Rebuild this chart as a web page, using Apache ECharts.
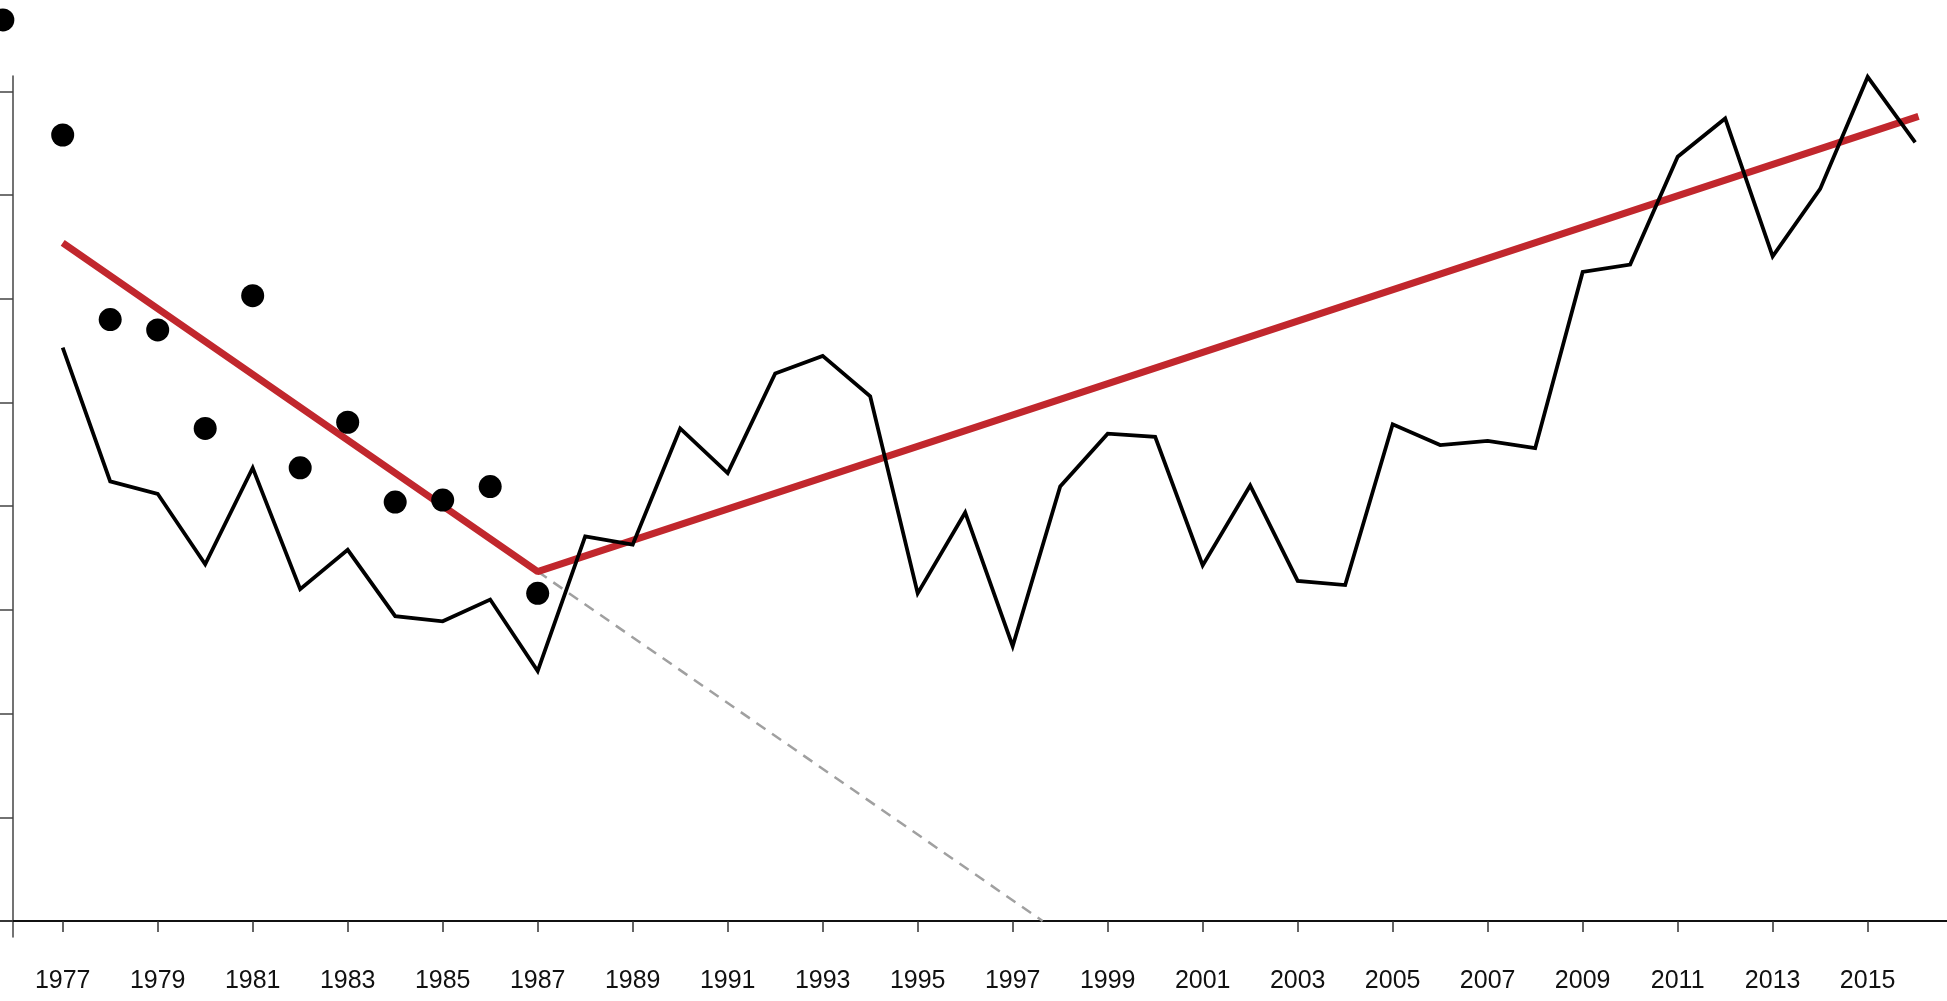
<!DOCTYPE html>
<html>
<head>
<meta charset="utf-8">
<script src="https://cdn.jsdelivr.net/npm/echarts@6/dist/echarts.min.js"></script>
<style>
html,body{margin:0;padding:0;background:#fff;}
#chart{width:1947px;height:1001px;}
</style>
</head>
<body>
<div id="chart"></div>
<script>
// ---- data ----
var years = [1977,1978,1979,1980,1981,1982,1983,1984,1985,1986,1987,1988,1989,1990,1991,1992,1993,1994,1995,1996,1997,1998,1999,2000,2001,2002,2003,2004,2005,2006,2007,2008,2009,2010,2011,2012,2013,2014,2015,2016];
var lineValues = [5.53,4.24,4.12,3.44,4.37,3.20,3.58,2.94,2.89,3.10,2.41,3.71,3.63,4.75,4.32,5.28,5.45,5.06,3.16,3.94,2.65,4.19,4.70,4.67,3.43,4.20,3.28,3.24,4.79,4.59,4.63,4.56,6.26,6.33,7.37,7.74,6.41,7.06,8.14,7.51];
var dotYears = [1977,1978,1979,1980,1981,1982,1983,1984,1985,1986,1987];
var dotValues = [7.58,5.80,5.70,4.75,6.03,4.37,4.81,4.04,4.06,4.19,3.16];
var trendYears = [1977,1987,2016.07];
var trendValues = [6.54,3.37,7.76];
var extrapYears = [1987,1997.63];
var extrapValues = [3.37,0];
var strayDot = [1975.74,8.69];
var tickYears = [1977,1979,1981,1983,1985,1987,1989,1991,1993,1995,1997,1999,2001,2003,2005,2007,2009,2011,2013,2015];
var yTicks = [0,1,2,3,4,5,6,7,8];

function zip(a,b){return a.map(function(x,i){return [x,b[i]];});}

var chart = echarts.init(document.getElementById('chart'));
chart.setOption({
  animation:false,
  backgroundColor:'#fff',
  grid:{left:0,right:0,top:76,bottom:64,containLabel:false,outerBoundsMode:'none'},
  xAxis:{
    type:'value',min:1975.68,max:2016.67,offset:-16,
    splitLine:{show:false},
    axisLine:{show:true,onZero:false,lineStyle:{color:'#111',width:2}},
    axisTick:{show:true,customValues:tickYears,length:11,lineStyle:{color:'#333',width:1.5}},
    axisLabel:{show:true,customValues:tickYears,margin:48,color:'#111',fontSize:25,
      fontFamily:'"Liberation Sans Narrow","Arial Narrow","Liberation Sans",Arial,sans-serif',
      formatter:function(v){return String(v);}}
  },
  yAxis:{
    type:'value',min:-0.154,max:8.149,offset:-13,
    splitLine:{show:false},
    axisLine:{show:true,onZero:false,lineStyle:{color:'#444',width:1.5}},
    axisTick:{show:true,customValues:yTicks,length:13,lineStyle:{color:'#444',width:1.5}},
    axisLabel:{show:false}
  },
  series:[
    {type:'line',data:zip(extrapYears,extrapValues),symbol:'none',z:1,
      lineStyle:{color:'#a0a0a0',width:2.5,type:[11,8]}},
    {type:'line',data:zip(trendYears,trendValues),symbol:'none',z:2,clip:false,
      lineStyle:{color:'#c1272d',width:7}},
    {type:'line',data:zip(years,lineValues),symbol:'none',z:3,clip:false,
      lineStyle:{color:'#000',width:3.8,join:'miter'}},
    {type:'scatter',data:zip(dotYears,dotValues),symbolSize:23,z:4,
      itemStyle:{color:'#000',opacity:1}},
    {type:'scatter',data:[strayDot],symbolSize:23,z:4,clip:false,
      itemStyle:{color:'#000',opacity:1}}
  ]
});
</script>
</body>
</html>
